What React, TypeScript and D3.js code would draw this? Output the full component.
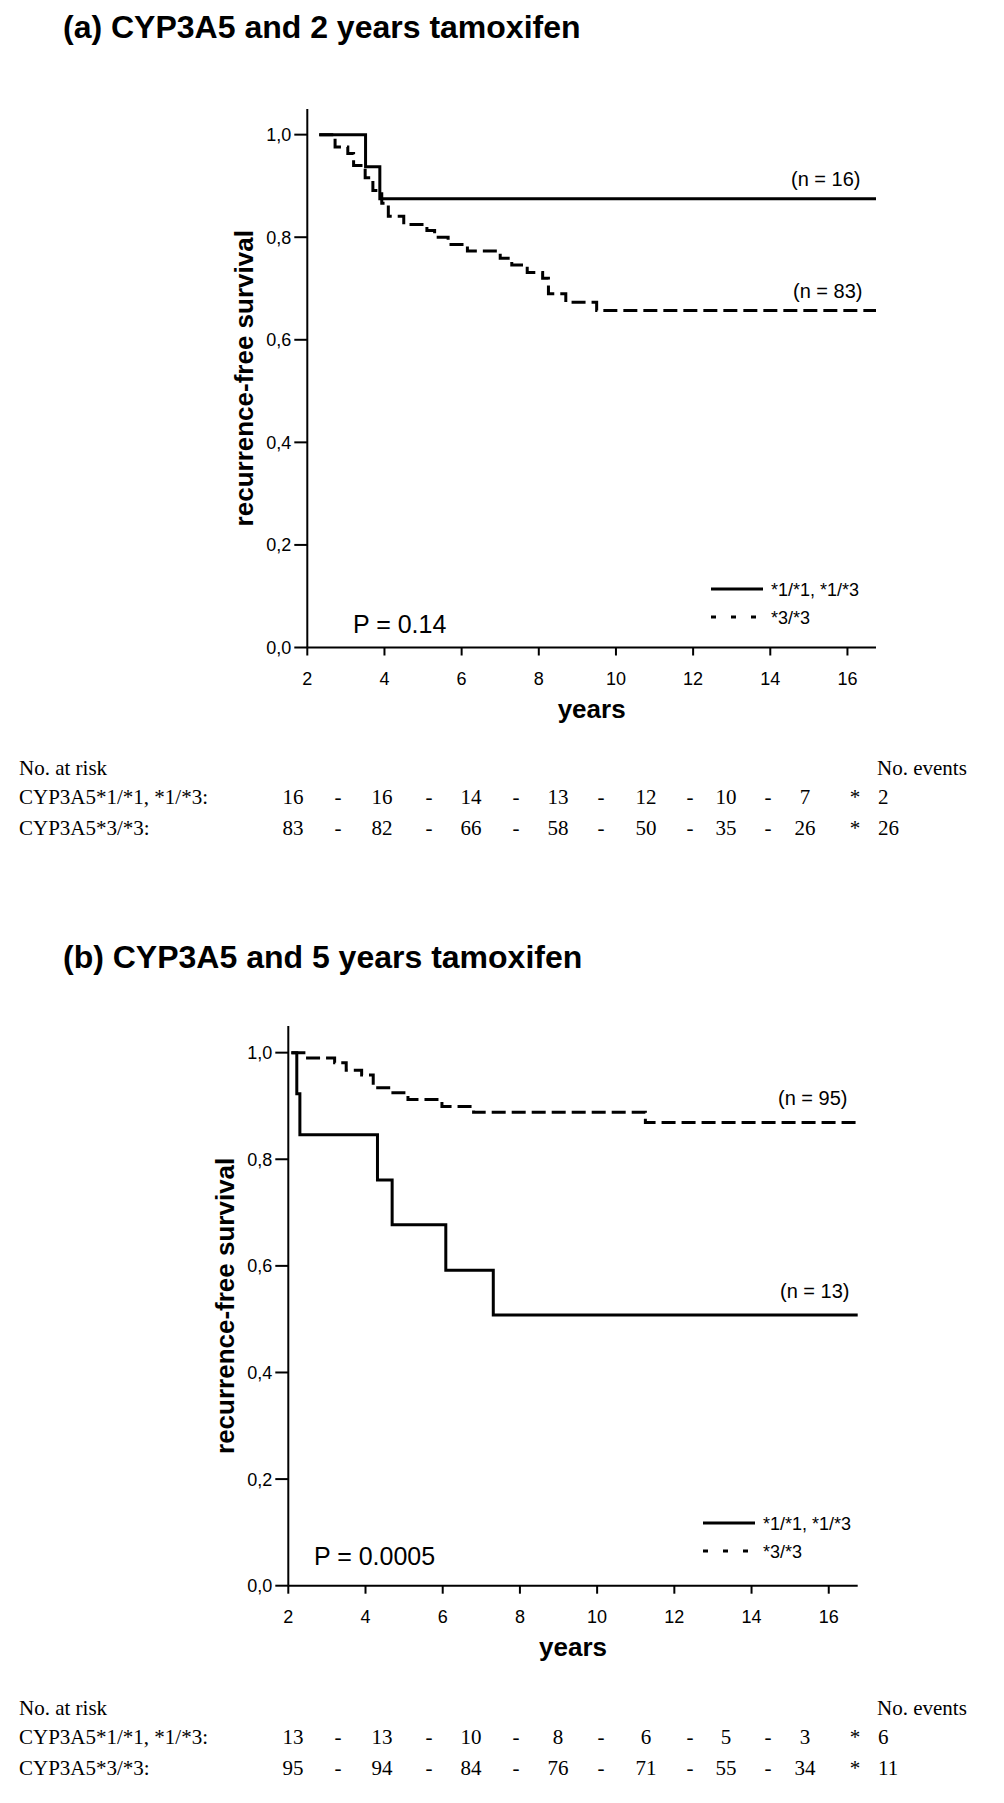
import React from "react";
import * as d3 from "d3";

// ---------- DATA ----------
const xTicks = [2, 4, 6, 8, 10, 12, 14, 16];
const yTicks = [0, 0.2, 0.4, 0.6, 0.8, 1.0];

// Panel (a): CYP3A5 and 2 years tamoxifen
const aSolidTime = [2.31, 3.51, 3.88];
const aSolidSurv = [1.0, 0.9375, 0.875];
const aDashTime = [2.31, 2.72, 3.05, 3.2, 3.5, 3.7, 3.93, 4.1, 4.5, 5.1, 5.3, 5.65, 6.15, 7.0, 7.3, 7.7, 8.1, 8.25, 8.7, 9.5];
const aDashSurv = [1.0, 0.976, 0.963, 0.94, 0.916, 0.891, 0.866, 0.841, 0.825, 0.813, 0.80, 0.786, 0.773, 0.759, 0.746, 0.731, 0.72, 0.69, 0.673, 0.657];
const aEnd = 16.74;

// Panel (b): CYP3A5 and 5 years tamoxifen
const bSolidTime = [2.08, 2.22, 2.3, 4.31, 4.69, 6.08, 7.31];
const bSolidSurv = [1.0, 0.923, 0.846, 0.761, 0.677, 0.592, 0.508];
const bDashTime = [2.08, 2.45, 3.2, 3.5, 3.9, 4.2, 4.64, 5.1, 5.98, 6.8, 11.25];
const bDashSurv = [1.0, 0.99, 0.981, 0.967, 0.958, 0.934, 0.925, 0.912, 0.899, 0.888, 0.869];
const bEnd = 16.75;

const rowLabels = ["CYP3A5*1/*1, *1/*3:", "CYP3A5*3/*3:"];
const riskA1 = [16, 16, 14, 13, 12, 10, 7];
const riskA2 = [83, 82, 66, 58, 50, 35, 26];
const eventsA = [2, 26];
const riskB1 = [13, 13, 10, 8, 6, 5, 3];
const riskB2 = [95, 94, 84, 76, 71, 55, 34];
const eventsB = [6, 11];

const legendLabels = ["*1/*1, *1/*3", "*3/*3"];

// ---------- LAYOUT ----------
const colX = [293, 382, 471, 558, 646, 726, 805];
const dashX = [338, 429, 516, 601, 690, 768];

const SANS = "'Liberation Sans', Arial, Helvetica, sans-serif";
const SERIF = "'Liberation Serif', 'Times New Roman', serif";

const fmtY = (v: number) => d3.format(".1f")(v).replace(".", ",");

type PanelProps = {
  title: string;
  titleY: number;
  x0: number;
  x1: number;
  yTop: number;
  yBottom: number;
  tEnd: number;
  solidT: number[];
  solidS: number[];
  dashT: number[];
  dashS: number[];
  pText: string;
  pX: number;
  pY: number;
  nSolid: string;
  nSolidPos: [number, number];
  nDash: string;
  nDashPos: [number, number];
  legX: number;
  legY: number;
  tableY: number;
  risk1: number[];
  risk2: number[];
  events: number[];
};

function stepPath(ts: number[], ss: number[], tEnd: number, x: any, y: any) {
  const pts: [number, number][] = ts.map((t, i) => [t, ss[i]]);
  pts.push([tEnd, ss[ss.length - 1]]);
  const line = d3
    .line<[number, number]>()
    .x((d) => x(d[0]))
    .y((d) => y(d[1]))
    .curve(d3.curveStepAfter);
  return line(pts) || "";
}

function Panel(p: PanelProps) {
  const x = d3.scaleLinear().domain([2, p.tEnd]).range([p.x0, p.x1]);
  const y = d3.scaleLinear().domain([0, 1.05]).range([p.yBottom, p.yTop]);
  const plotMidX = (p.x0 + p.x1) / 2;
  const plotMidY = (p.yTop + p.yBottom) / 2;
  return (
    <g>
      <text x={63} y={p.titleY} fontFamily={SANS} fontWeight="bold" fontSize={32} fill="#000">
        {p.title}
      </text>
      {/* axes */}
      <line x1={p.x0} x2={p.x0} y1={p.yTop} y2={p.yBottom} stroke="#000" strokeWidth={2} />
      <line x1={p.x0} x2={p.x1} y1={p.yBottom} y2={p.yBottom} stroke="#000" strokeWidth={2} />
      {yTicks.map((v) => (
        <g key={"y" + v}>
          <line x1={p.x0 - 13} x2={p.x0} y1={y(v)} y2={y(v)} stroke="#000" strokeWidth={2} />
          <text x={p.x0 - 16} y={y(v) + 6.5} textAnchor="end" fontFamily={SANS} fontSize={18} fill="#000">
            {fmtY(v)}
          </text>
        </g>
      ))}
      {xTicks.map((v) => (
        <g key={"x" + v}>
          <line x1={x(v)} x2={x(v)} y1={p.yBottom} y2={p.yBottom + 8} stroke="#000" strokeWidth={2} />
          <text x={x(v)} y={p.yBottom + 37.5} textAnchor="middle" fontFamily={SANS} fontSize={18} fill="#000">
            {v}
          </text>
        </g>
      ))}
      <text x={plotMidX} y={p.yBottom + 70.5} textAnchor="middle" fontFamily={SANS} fontWeight="bold" fontSize={26} fill="#000">
        years
      </text>
      <text
        transform={`translate(${p.x0 - 54},${plotMidY}) rotate(-90)`}
        textAnchor="middle"
        fontFamily={SANS}
        fontWeight="bold"
        fontSize={26}
        fill="#000"
      >
        recurrence-free survival
      </text>
      {/* curves */}
      <path d={stepPath(p.solidT, p.solidS, p.tEnd, x, y)} fill="none" stroke="#000" strokeWidth={3} />
      <path
        d={stepPath(p.dashT, p.dashS, p.tEnd, x, y)}
        fill="none"
        stroke="#000"
        strokeWidth={3}
        strokeDasharray="14,6"
      />
      <text x={p.nSolidPos[0]} y={p.nSolidPos[1]} fontFamily={SANS} fontSize={20} fill="#000">
        {p.nSolid}
      </text>
      <text x={p.nDashPos[0]} y={p.nDashPos[1]} fontFamily={SANS} fontSize={20} fill="#000">
        {p.nDash}
      </text>
      <text x={p.pX} y={p.pY} fontFamily={SANS} fontSize={25} fill="#000">
        {p.pText}
      </text>
      {/* legend */}
      <line x1={p.legX} x2={p.legX + 52} y1={p.legY} y2={p.legY} stroke="#000" strokeWidth={3} />
      <line
        x1={p.legX}
        x2={p.legX + 50}
        y1={p.legY + 28}
        y2={p.legY + 28}
        stroke="#000"
        strokeWidth={3}
        strokeDasharray="5,15"
      />
      <text x={p.legX + 60} y={p.legY + 6.5} fontFamily={SANS} fontSize={18} fill="#000">
        {legendLabels[0]}
      </text>
      <text x={p.legX + 60} y={p.legY + 34.5} fontFamily={SANS} fontSize={18} fill="#000">
        {legendLabels[1]}
      </text>
      {/* risk table */}
      <g fontFamily={SERIF} fontSize={21} fill="#000">
        <text x={19} y={p.tableY}>No. at risk</text>
        <text x={877} y={p.tableY}>No. events</text>
        {[p.risk1, p.risk2].map((row, r) => (
          <g key={"r" + r}>
            <text x={19} y={p.tableY + 29 + r * 31}>{rowLabels[r]}</text>
            {row.map((v, i) => (
              <text key={"v" + i} x={colX[i]} y={p.tableY + 29 + r * 31} textAnchor="middle">
                {v}
              </text>
            ))}
            {dashX.map((dx, i) => (
              <text key={"d" + i} x={dx} y={p.tableY + 29 + r * 31} textAnchor="middle">
                -
              </text>
            ))}
            <text x={855} y={p.tableY + 29 + r * 31} textAnchor="middle">*</text>
            <text x={878} y={p.tableY + 29 + r * 31}>{p.events[r]}</text>
          </g>
        ))}
      </g>
    </g>
  );
}

export default function App() {
  return (
    <svg
      width={1004}
      height={1803}
      viewBox="0 0 1004 1803"
      style={{ position: "absolute", left: 0, top: 0, background: "#fff" }}
    >
      <rect x={0} y={0} width={1004} height={1803} fill="#fff" />
      <Panel
        title="(a) CYP3A5 and 2 years tamoxifen"
        titleY={37.5}
        x0={307.3}
        x1={876}
        yTop={109}
        yBottom={647.5}
        tEnd={aEnd}
        solidT={aSolidTime}
        solidS={aSolidSurv}
        dashT={aDashTime}
        dashS={aDashSurv}
        pText="P = 0.14"
        pX={353}
        pY={633}
        nSolid="(n = 16)"
        nSolidPos={[791, 186]}
        nDash="(n = 83)"
        nDashPos={[793, 298]}
        legX={711}
        legY={589}
        tableY={775}
        risk1={riskA1}
        risk2={riskA2}
        events={eventsA}
      />
      <Panel
        title="(b) CYP3A5 and 5 years tamoxifen"
        titleY={968}
        x0={288.3}
        x1={857.7}
        yTop={1026}
        yBottom={1585.7}
        tEnd={bEnd}
        solidT={bSolidTime}
        solidS={bSolidSurv}
        dashT={bDashTime}
        dashS={bDashSurv}
        pText="P = 0.0005"
        pX={314}
        pY={1565}
        nSolid="(n = 13)"
        nSolidPos={[780, 1298]}
        nDash="(n = 95)"
        nDashPos={[778, 1105]}
        legX={703}
        legY={1523}
        tableY={1715}
        risk1={riskB1}
        risk2={riskB2}
        events={eventsB}
      />
    </svg>
  );
}
